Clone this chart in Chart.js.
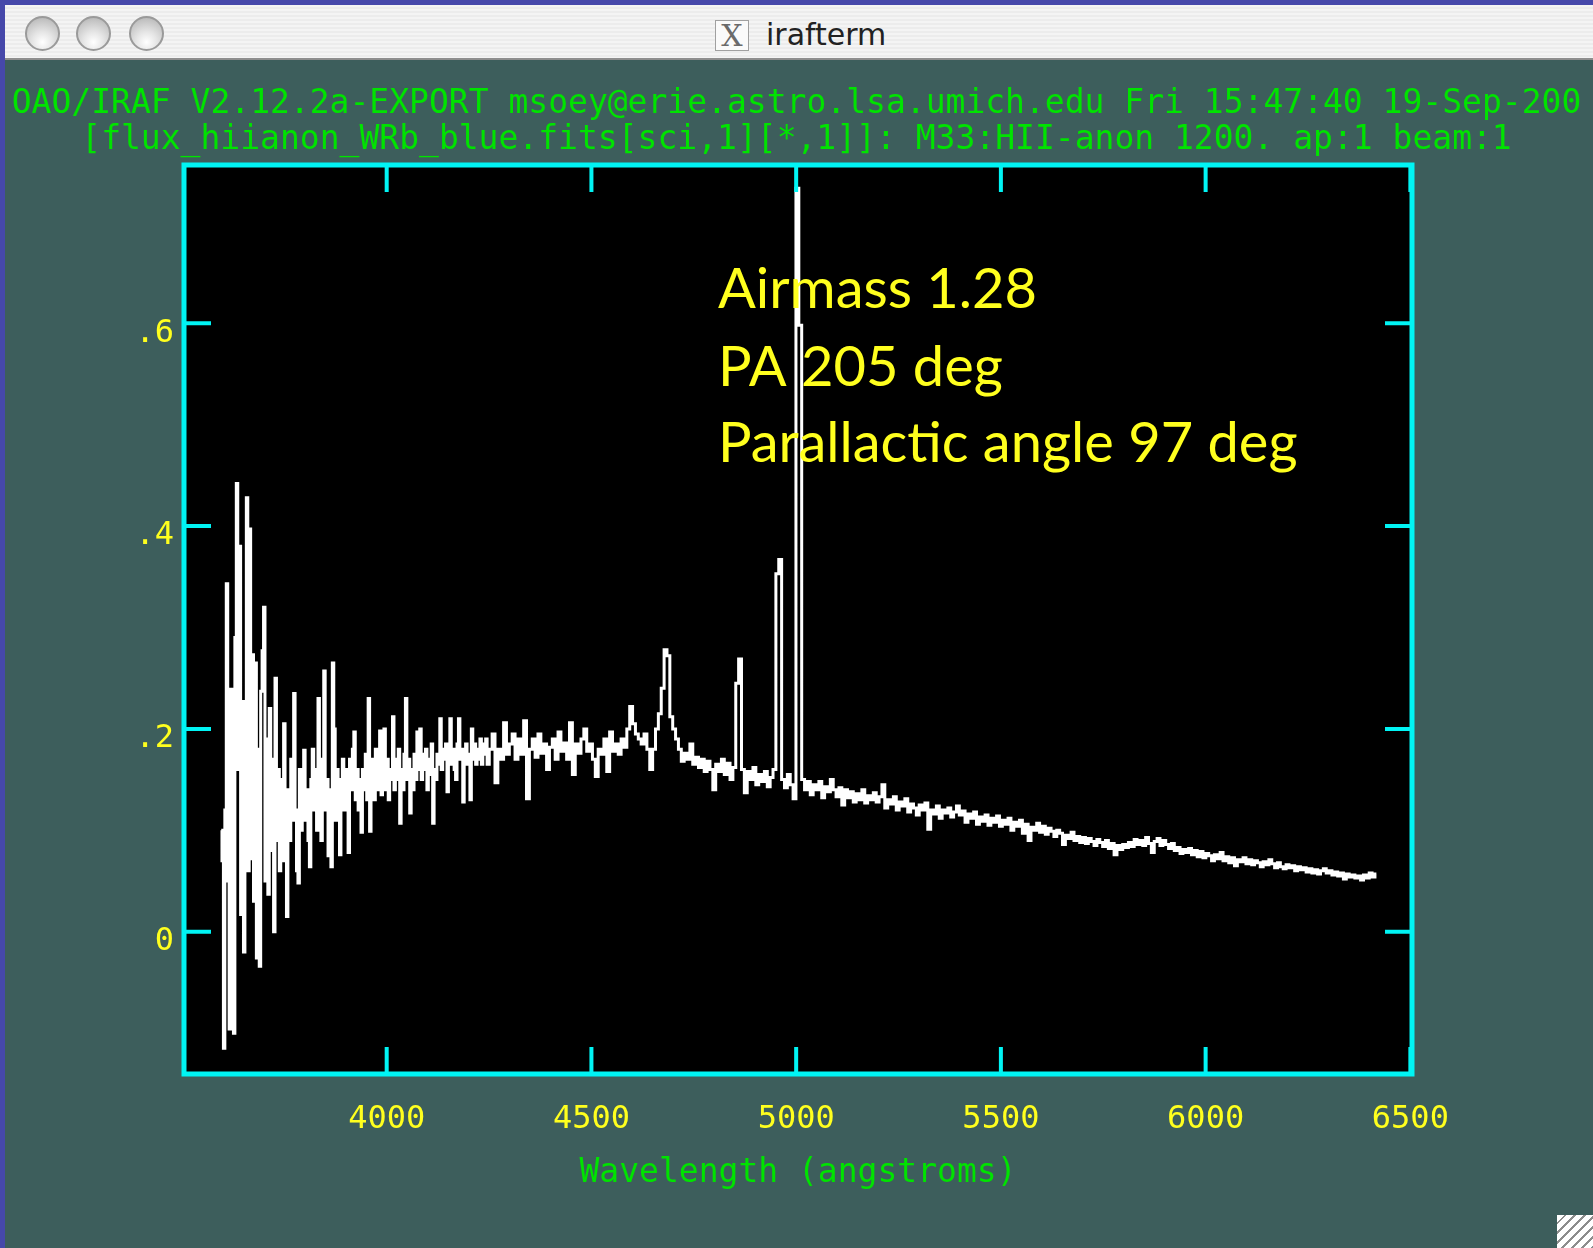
<!DOCTYPE html>
<html>
<head>
<meta charset="utf-8">
<title>irafterm</title>
<script src="https://cdn.jsdelivr.net/npm/chart.js@4.4.1/dist/chart.umd.min.js"></script>
<style>
  html, body { margin: 0; padding: 0; }
  body { width: 1593px; height: 1248px; overflow: hidden; position: relative; background: #4648aa; }
  #titlebar { position: absolute; left: 5px; top: 5px; right: 0; height: 53px;
    background: repeating-linear-gradient(#f4f4f4 0 2px, #ececec 2px 4px); border-bottom: 2px solid #8e8e8e; }
  .btn { position: absolute; top: 16px; width: 35px; height: 35px; border-radius: 50%; box-sizing: border-box;
    border: 2px solid #9a9a9a;
    background: radial-gradient(circle at 50% 78%, #ffffff 0, #e6e6e6 35%, #c4c4c4 75%, #a9a9a9 100%); }
  #xicon { position: absolute; left: 715px; top: 20px; width: 34px; height: 31px; box-sizing: border-box;
    border: 1px solid #a0a0a0; background: #fafafa; color: #6a6a6a; font: 30px 'DejaVu Serif', serif;
    line-height: 29px; text-align: center; }
  #wtitle { position: absolute; left: 766px; top: 17px; font: 30px 'DejaVu Sans', sans-serif; color: #222; }
  #term { position: absolute; left: 5px; top: 60px; right: 0; bottom: 0; background: #3d5e5c; }
  #chart { position: absolute; left: 0; top: 0; }
  #grip { position: absolute; left: 1557px; top: 1215px; width: 36px; height: 33px;
    background: repeating-linear-gradient(135deg, #ffffff 0 5px, #8d8d8d 5px 7px); }
</style>
</head>
<body>
<div id="titlebar"></div>
<div class="btn" style="left:25px"></div>
<div class="btn" style="left:76px"></div>
<div class="btn" style="left:129px"></div>
<div id="xicon">X</div>
<div id="wtitle">irafterm</div>
<div id="term"></div>
<canvas id="chart" width="1593" height="1248"></canvas>
<div id="grip"></div>
<script>
const header = "OAO/IRAF V2.12.2a-EXPORT msoey@erie.astro.lsa.umich.edu Fri 15:47:40 19-Sep-200";
const subheader = "[flux_hiianon_WRb_blue.fits[sci,1][*,1]]: M33:HII-anon 1200. ap:1 beam:1";
const xTitle = "Wavelength (angstroms)";
const xTicks = [4000, 4500, 5000, 5500, 6000, 6500];
const yTicks = [0, 0.2, 0.4, 0.6];
const yTickLabels = ["0", ".2", ".4", ".6"];
const notes = ["Airmass 1.28", "PA 205 deg", "Parallactic angle 97 deg"];

// noisy blue end, read at 3.5 A per pixel (3596 - 4247)
const blueStart = 3596;
const blueStep = 3.5;
const fluxBlue = [
  0.10, 0.07, -0.115, 0.12, 0.343, 0.05, -0.096, 0.239, 0.02, -0.10,
  0.29, 0.442, 0.16, 0.38, 0.017, 0.227, -0.02, 0.15, 0.428, 0.06,
  0.397, 0.072, 0.273, 0.03, 0.265, -0.026, 0.18, -0.034, 0.237, 0.277,
  0.32, 0.05, 0.19, 0.037, 0.22, 0.08, 0.17, 0.00, 0.25, 0.09,
  0.16, 0.06, 0.15, 0.07, 0.205, 0.10, 0.015, 0.14, 0.09, 0.17,
  0.11, 0.235, 0.12, 0.06, 0.048, 0.16, 0.10, 0.15, 0.179, 0.11,
  0.14, 0.09, 0.064, 0.15, 0.18, 0.12, 0.16, 0.10, 0.23, 0.13,
  0.09, 0.17, 0.257, 0.12, 0.15, 0.075, 0.14, 0.064, 0.265, 0.20,
  0.11, 0.16, 0.13, 0.076, 0.15, 0.17, 0.12, 0.16, 0.13, 0.078,
  0.17, 0.14, 0.18, 0.197, 0.13, 0.16, 0.12, 0.15, 0.098, 0.16,
  0.14, 0.175, 0.13, 0.23, 0.099, 0.15, 0.17, 0.13, 0.18, 0.14,
  0.16, 0.198, 0.135, 0.165, 0.20, 0.14, 0.17, 0.13, 0.16, 0.15,
  0.212, 0.14, 0.17, 0.15, 0.18, 0.107, 0.16, 0.14, 0.175, 0.23,
  0.15, 0.17, 0.117, 0.16, 0.14, 0.175, 0.15, 0.197, 0.16, 0.20,
  0.15, 0.175, 0.16, 0.18, 0.14, 0.17, 0.155, 0.185, 0.107, 0.16,
  0.15, 0.175, 0.165, 0.21, 0.16, 0.18, 0.17, 0.185, 0.138, 0.175,
  0.21, 0.165, 0.18, 0.16, 0.15, 0.185, 0.21, 0.17, 0.18, 0.128,
  0.17, 0.185, 0.165, 0.175, 0.13, 0.20, 0.17, 0.185, 0.165, 0.18,
  0.17, 0.19, 0.165, 0.185, 0.175, 0.19, 0.165,
];

// rest of the spectrum at 7 A per pixel (4254 - 6417)
const redStart = 4254;
const redStep = 7;
const fluxRed = [
  // 4254 - 4548
  0.18, 0.195, 0.147, 0.18, 0.17, 0.206, 0.175, 0.185, 0.195, 0.17,
  0.19, 0.175, 0.208, 0.131, 0.18, 0.19, 0.172, 0.195, 0.176, 0.185,
  0.16, 0.182, 0.19, 0.17, 0.197, 0.178, 0.186, 0.17, 0.206, 0.155,
  0.185, 0.176, 0.19, 0.20, 0.178, 0.185, 0.17, 0.153, 0.18, 0.175,
  0.19, 0.158, 0.197,
  // 4555 - 4793 (WR bump, He II 4686)
  0.178, 0.185, 0.175, 0.19, 0.182, 0.20, 0.222, 0.205, 0.195, 0.19,
  0.185, 0.195, 0.18, 0.16, 0.18, 0.20, 0.215, 0.24, 0.278, 0.272,
  0.212, 0.20, 0.19, 0.18, 0.168, 0.176, 0.17, 0.185, 0.165, 0.172,
  0.162, 0.17, 0.158, 0.168, 0.16,
  // 4800 - 5108 (H beta, [O III])
  0.14, 0.165, 0.158, 0.17, 0.155, 0.166, 0.15, 0.162, 0.245, 0.269,
  0.16, 0.137, 0.158, 0.15, 0.162, 0.145, 0.155, 0.148, 0.158, 0.143,
  0.152, 0.16, 0.353, 0.367, 0.15, 0.142, 0.155, 0.145, 0.131, 0.733,
  0.598, 0.15, 0.14, 0.148, 0.135, 0.145, 0.14, 0.148, 0.132, 0.143,
  0.138, 0.15, 0.14, 0.133, 0.142,
  // 5115 - 6417
  0.125, 0.14, 0.132, 0.138, 0.128, 0.136, 0.13, 0.14, 0.127, 0.134,
  0.13, 0.137, 0.128, 0.133, 0.145, 0.122, 0.13, 0.126, 0.133, 0.12,
  0.128, 0.124, 0.131, 0.118, 0.126, 0.122, 0.115, 0.125, 0.12, 0.127,
  0.101, 0.12, 0.116, 0.124, 0.112, 0.12, 0.117, 0.122, 0.113, 0.118,
  0.124, 0.115, 0.119, 0.108, 0.116, 0.112, 0.118, 0.106, 0.113, 0.109,
  0.115, 0.105, 0.112, 0.108, 0.114, 0.104, 0.11, 0.106, 0.112, 0.10,
  0.108, 0.104, 0.11, 0.097, 0.106, 0.09, 0.103, 0.10, 0.107, 0.098,
  0.104, 0.096, 0.102, 0.099, 0.094, 0.10, 0.097, 0.086, 0.095, 0.092,
  0.098, 0.09, 0.094, 0.088, 0.093, 0.087, 0.092, 0.089, 0.085, 0.091,
  0.088, 0.084, 0.09, 0.082, 0.087, 0.076, 0.085, 0.081, 0.086, 0.083,
  0.088, 0.084, 0.091, 0.086, 0.09, 0.085, 0.093, 0.087, 0.078, 0.089,
  0.092, 0.085, 0.09, 0.086, 0.082, 0.087, 0.08, 0.083, 0.077, 0.081,
  0.078, 0.082, 0.076, 0.08, 0.074, 0.079, 0.073, 0.077, 0.075, 0.07,
  0.076, 0.072, 0.078, 0.07, 0.074, 0.068, 0.073, 0.065, 0.071, 0.069,
  0.073, 0.067, 0.071, 0.066, 0.07, 0.068, 0.064, 0.069, 0.066, 0.071,
  0.067, 0.063, 0.068, 0.064, 0.062, 0.066, 0.063, 0.065, 0.06, 0.064,
  0.061, 0.063, 0.059, 0.062, 0.058, 0.061, 0.057, 0.06, 0.062, 0.058,
  0.06, 0.056, 0.059, 0.055, 0.058, 0.052, 0.057, 0.054, 0.056, 0.053,
  0.055, 0.051, 0.056, 0.053, 0.058, 0.054, 0.057,
];

const spectrum = [
  ...fluxBlue.map((f, i) => ({ x: blueStart + blueStep * i, y: f })),
  ...fluxRed.map((f, i) => ({ x: redStart + redStep * i, y: f })),
];

const mono = "'DejaVu Sans Mono', 'Liberation Mono', monospace";
const green = "#00e300";
const yellow = "#ffff1e";
const cyan = "#00f4f4";

// black plot window, cyan frame with inward ticks on all four sides
const framePlugin = {
  id: "frame",
  beforeDatasetsDraw(chart) {
    const { ctx, chartArea: a } = chart;
    ctx.save();
    ctx.fillStyle = "#000";
    ctx.fillRect(a.left, a.top, a.right - a.left, a.bottom - a.top);
    ctx.restore();
  },
  afterDatasetsDraw(chart) {
    const { ctx, chartArea: a, scales } = chart;
    const len = 27;
    ctx.save();
    ctx.strokeStyle = cyan;
    ctx.lineWidth = 4;
    ctx.beginPath();
    scales.x.ticks.forEach((t) => {
      const px = scales.x.getPixelForValue(t.value);
      ctx.moveTo(px, a.bottom); ctx.lineTo(px, a.bottom - len);
      ctx.moveTo(px, a.top); ctx.lineTo(px, a.top + len);
    });
    scales.y.ticks.forEach((t) => {
      const py = scales.y.getPixelForValue(t.value);
      ctx.moveTo(a.left, py); ctx.lineTo(a.left + len, py);
      ctx.moveTo(a.right, py); ctx.lineTo(a.right - len, py);
    });
    ctx.stroke();
    ctx.lineWidth = 5;
    ctx.strokeRect(a.left, a.top, a.right - a.left, a.bottom - a.top);
    ctx.restore();
  },
};

// text typed onto the plot afterwards
const notesPlugin = {
  id: "notes",
  afterDraw(chart, args, opts) {
    const { ctx, scales } = chart;
    ctx.save();
    ctx.fillStyle = opts.color;
    ctx.textBaseline = "alphabetic";
    ctx.font = opts.size + "px " + opts.family;
    const px = scales.x.getPixelForValue(opts.x);
    notes.forEach((t, i) => ctx.fillText(t, px, scales.y.getPixelForValue(opts.y[i])));
    ctx.restore();
  },
};

const config = {
  type: "line",
  data: {
    datasets: [
      {
        label: "flux",
        data: spectrum,
        borderColor: "#ffffff",
        borderWidth: 3,
        pointRadius: 0,
        stepped: "middle",
        fill: false,
      },
    ],
  },
  options: {
    responsive: false,
    animation: false,
    events: [],
    layout: { padding: 0 },
    plugins: {
      legend: { display: false },
      tooltip: { enabled: false },
      title: {
        display: true,
        text: header,
        color: green,
        font: { family: mono, size: 33, weight: "normal", lineHeight: 1 },
        padding: { top: 88, bottom: 3 },
      },
      subtitle: {
        display: true,
        text: subheader,
        color: green,
        font: { family: mono, size: 33, weight: "normal", lineHeight: 1 },
        padding: { top: 0, bottom: 8 },
      },
      notes: { x: 4809, y: [0.615, 0.538, 0.463], size: 56, family: "Lato, 'Open Sans', sans-serif", color: yellow },
    },
    scales: {
      x: {
        type: "linear",
        position: "bottom",
        min: 3505,
        max: 6504,
        grid: { display: false, drawTicks: false },
        border: { display: false },
        afterBuildTicks: (s) => { s.ticks = xTicks.map((v) => ({ value: v })); },
        afterFit: (s) => { s.height = 174; },
        ticks: {
          color: yellow,
          font: { family: mono, size: 32, lineHeight: 1 },
          padding: 30,
          maxRotation: 0,
          autoSkip: false,
          callback: (v) => String(v),
        },
        title: {
          display: true,
          text: xTitle,
          color: green,
          font: { family: mono, size: 33, lineHeight: 1 },
          padding: { top: 0, bottom: 58 },
        },
      },
      y: {
        type: "linear",
        position: "left",
        min: -0.1403,
        max: 0.756,
        grid: { display: false, drawTicks: false },
        border: { display: false },
        afterBuildTicks: (s) => { s.ticks = yTicks.map((v) => ({ value: v })); },
        afterFit: (s) => { s.width = 184; },
        ticks: {
          color: yellow,
          font: { family: mono, size: 32, lineHeight: 1 },
          padding: 10,
          labelOffset: 10,
          callback: (v) => yTickLabels[yTicks.indexOf(v)],
        },
      },
      yRight: {
        type: "linear",
        position: "right",
        min: -0.1403,
        max: 0.756,
        grid: { display: false, drawTicks: false },
        border: { display: false },
        ticks: { display: false },
        afterFit: (s) => { s.width = 181; },
      },
    },
  },
  plugins: [framePlugin, notesPlugin],
};

const chart = new Chart(document.getElementById("chart"), config);
</script>
</body>
</html>
